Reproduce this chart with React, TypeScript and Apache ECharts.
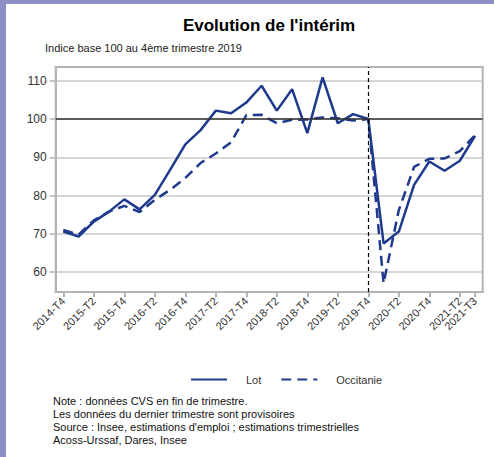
import React, { useEffect, useRef } from "react";
import * as echarts from "echarts";

const categories = [
  "2014-T4","2015-T1","2015-T2","2015-T3","2015-T4","2016-T1","2016-T2","2016-T3",
  "2016-T4","2017-T1","2017-T2","2017-T3","2017-T4","2018-T1","2018-T2","2018-T3",
  "2018-T4","2019-T1","2019-T2","2019-T3","2019-T4","2020-T1","2020-T2","2020-T3",
  "2020-T4","2021-T1","2021-T2","2021-T3",
];
const lotValues = [
  70.6, 69.3, 73.2, 75.8, 79.0, 76.4, 80.2, 86.7,
  93.4, 97.1, 102.2, 101.5, 104.3, 108.7, 102.2, 107.8,
  96.3, 110.9, 98.9, 101.3, 100.0, 67.5, 70.6, 82.8,
  88.9, 86.5, 89.1, 95.6,
];
const occitanieValues = [
  71.0, 69.8, 73.5, 75.8, 77.3, 75.7, 78.9, 81.5,
  84.6, 88.5, 91.0, 93.9, 101.0, 101.1, 98.9, 99.8,
  99.9, 100.4, 100.2, 99.6, 100.0, 57.1, 76.2, 87.5,
  89.6, 89.7, 91.6, 95.8,
];
const yTicks = [60, 70, 80, 90, 100, 110];
const shownLabels = [
  "2014-T4","2015-T2","2015-T4","2016-T2","2016-T4","2017-T2","2017-T4","2018-T2",
  "2018-T4","2019-T2","2019-T4","2020-T2","2020-T4","2021-T2","2021-T3",
];
// label drawn on a second, label-only axis so it is not hidden as an overlap
const extraLabel = "2021-T2";
const title = "Evolution de l'intérim";
const subtitle = "Indice base 100 au 4ème trimestre 2019";
const notes = [
  "Note : données CVS en fin de trimestre.",
  "Les données du dernier trimestre sont provisoires",
  "Source : Insee, estimations d'emploi ; estimations trimestrielles",
  "Acoss-Urssaf, Dares, Insee",
];

const BLUE = "#1f3a8c";
const FONT = "Liberation Sans, Arial, sans-serif";

export default function App() {
  const ref = useRef<HTMLDivElement>(null);
  useEffect(() => {
    if (!ref.current) return;
    const chart = echarts.init(ref.current, undefined, { renderer: "svg" });
    const showTick = (i: number) => shownLabels.includes(categories[i]);
    const showMain = (i: number) => shownLabels.includes(categories[i]) && categories[i] !== extraLabel;
    const showExtra = (i: number) => categories[i] === extraLabel;
    const labelBase = { rotate: 45, fontSize: 11, color: "#333", margin: 7, fontFamily: FONT, hideOverlap: false };
    chart.setOption({
      animation: false,
      backgroundColor: "#ffffff",
      textStyle: { fontFamily: FONT },
      graphic: [
        { type: "rect", left: 0, top: 0, shape: { width: 6, height: 457 }, style: { fill: "#8f8fc8" } },
        { type: "rect", left: 0, top: 0, shape: { width: 494, height: 4 }, style: { fill: "#8f8fc8" } },
        {
          type: "text", x: 269, y: 25,
          style: { text: title, fontSize: 17, fontWeight: "bold", fill: "#000", align: "center", verticalAlign: "middle", fontFamily: FONT },
        },
        {
          type: "text", x: 45, y: 48,
          style: { text: subtitle, fontSize: 11, fill: "#222", align: "left", verticalAlign: "middle", fontFamily: FONT },
        },
        {
          type: "text", x: 53, y: 395,
          style: { text: notes.join("\n"), fontSize: 11, lineHeight: 12.8, fill: "#111", align: "left", verticalAlign: "top", fontFamily: FONT },
        },
      ],
      legend: {
        left: 185,
        top: 369,
        itemWidth: 36,
        itemHeight: 12,
        itemGap: 19,
        itemStyle: { opacity: 0 },
        textStyle: { fontSize: 11, color: "#333", padding: [0, 0, 0, 14], fontFamily: FONT },
        data: ["Lot", "Occitanie"],
      },
      grid: {
        left: 55.7,
        right: 11.3,
        top: 67,
        bottom: 165,
        show: true,
        borderColor: "#b4b4b4",
        borderWidth: 2,
        backgroundColor: "transparent",
      },
      xAxis: [
        {
          type: "category",
          data: categories,
          boundaryGap: true,
          axisLine: { show: true, lineStyle: { color: "#b4b4b4", width: 2 } },
          axisTick: { show: true, alignWithLabel: true, interval: showTick, length: 5, lineStyle: { color: "#b4b4b4", width: 2 } },
          axisLabel: { ...labelBase, interval: showMain, showMaxLabel: true, showMinLabel: true },
          splitLine: { show: false },
        },
        {
          type: "category",
          data: categories,
          position: "bottom",
          boundaryGap: true,
          axisLine: { show: false },
          axisTick: { show: false },
          axisLabel: { ...labelBase, interval: showExtra, showMaxLabel: false, showMinLabel: false },
          splitLine: { show: false },
        },
      ],
      yAxis: {
        type: "value",
        min: 54.8,
        max: 113.6,
        axisLine: { show: true, lineStyle: { color: "#b4b4b4", width: 2 } },
        axisTick: { show: true, length: 6, customValues: yTicks, lineStyle: { color: "#b4b4b4", width: 1.5 } },
        axisLabel: { customValues: yTicks, fontSize: 12, color: "#333", margin: 9, fontFamily: FONT },
        splitLine: { show: true, lineStyle: { color: "#c8c8c8", width: 1.5 } },
      },
      series: [
        {
          name: "Lot",
          type: "line",
          xAxisIndex: 0,
          data: lotValues,
          symbol: "none",
          lineStyle: { color: BLUE, width: 2.5 },
          itemStyle: { color: BLUE },
          z: 3,
          markLine: {
            silent: true,
            symbol: "none",
            label: { show: false },
            data: [
              { yAxis: 100, lineStyle: { color: "#333", width: 1.5, type: "solid" } },
              { xAxis: "2019-T4", lineStyle: { color: "#000", width: 1.2, type: [4, 3] } },
            ],
          },
        },
        {
          name: "Occitanie",
          type: "line",
          xAxisIndex: 0,
          data: occitanieValues,
          symbol: "none",
          lineStyle: { color: BLUE, width: 2.5, type: [10, 6] },
          itemStyle: { color: BLUE },
          z: 2,
        },
      ],
    });
    return () => chart.dispose();
  }, []);
  return (
    <div style={{ position: "absolute", left: 0, top: 0, width: 494, height: 457 }}>
      <div ref={ref} style={{ width: 494, height: 457 }} />
    </div>
  );
}
